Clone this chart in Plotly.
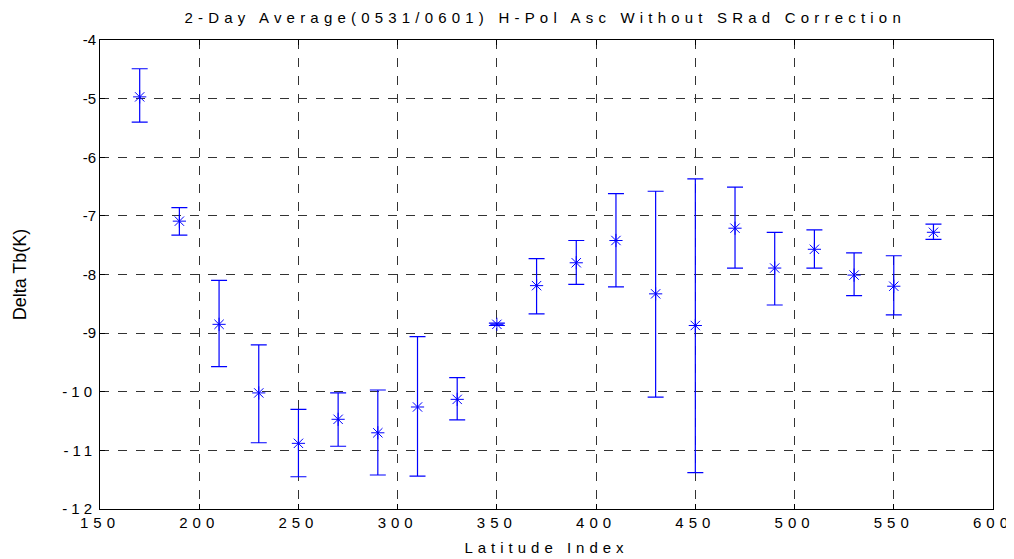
import plotly.graph_objects as go

lat_index = [170, 190, 210, 230, 250, 270, 290, 310, 330, 350, 370,
             390, 410, 430, 450, 470, 490, 510, 530, 550, 570]
delta_tb = [-4.97, -7.09, -8.85, -10.02, -10.88, -10.47, -10.70, -10.26, -10.13, -8.85, -8.19,
            -7.80, -7.42, -8.33, -8.87, -7.21, -7.89, -7.57, -8.01, -8.20, -7.28]
upper = [-4.49, -6.86, -8.10, -9.20, -10.30, -10.02, -9.97, -9.06, -9.76, -8.83, -7.73,
         -7.42, -6.62, -6.58, -6.37, -6.51, -7.28, -7.24, -7.63, -7.68, -7.14]
lower = [-5.40, -7.33, -9.57, -10.87, -11.45, -10.93, -11.42, -11.44, -10.48, -8.87, -8.67,
         -8.17, -8.21, -10.09, -11.38, -7.89, -8.52, -7.89, -8.36, -8.69, -7.40]

err_plus = [u - v for u, v in zip(upper, delta_tb)]
err_minus = [v - l for v, l in zip(delta_tb, lower)]

x_ticks = [150, 200, 250, 300, 350, 400, 450, 500, 550, 600]
y_ticks = [-12, -11, -10, -9, -8, -7, -6, -5, -4]

title_text = "2-Day Average(0531/0601) H-Pol Asc Without SRad Correction"
x_title = "Latitude Index"
y_title = "Delta Tb(K)"


def spaced(s, sp):
    return f'<span style="letter-spacing:{sp}px">{s}</span>'


x_ticktext = [spaced(str(v), 5) for v in x_ticks]
y_ticktext = [spaced(str(v), 4) if abs(v) >= 10 else str(v) for v in y_ticks]

fig = go.Figure()
fig.add_trace(go.Scatter(
    x=lat_index, y=delta_tb, mode="markers",
    marker=dict(symbol="asterisk-open", size=11, color="#0000ff",
                line=dict(color="#0000ff", width=1)),
    error_y=dict(type="data", symmetric=False, array=err_plus, arrayminus=err_minus,
                 color="#0000ff", thickness=1.2, width=8),
    showlegend=False,
))

font = dict(family="Liberation Sans, Arial, sans-serif", size=15, color="black")
axis_common = dict(
    showline=True, linecolor="black", linewidth=1, mirror="ticks",
    ticks="inside", ticklen=5, tickcolor="black",
    showgrid=True, gridcolor="#333333", gridwidth=1, griddash="dash",
    zeroline=False, tickfont=font, automargin=False,
)
fig.update_layout(
    width=1006, height=551,
    margin=dict(l=92, r=21, t=32, b=50),
    paper_bgcolor="white", plot_bgcolor="white",
    title=dict(text=spaced(title_text, 5.2), x=0.534, xanchor="center", y=0.982,
               yanchor="middle", font=font),
    xaxis=dict(range=[150, 600], tickvals=x_ticks, ticktext=x_ticktext,
               title=dict(text=spaced(x_title, 5), font=font, standoff=12), **axis_common),
    yaxis=dict(range=[-12, -4], tickvals=y_ticks, ticktext=y_ticktext,
               title=dict(text=y_title, font=dict(family=font["family"], size=18, color="black"),
                          standoff=31), **axis_common),
)
fig.write_html("out.html")
